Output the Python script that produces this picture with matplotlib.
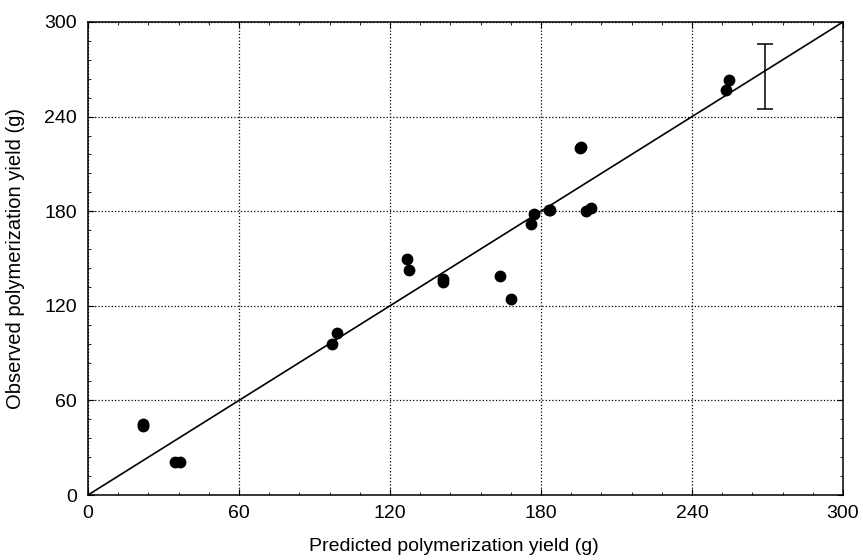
import numpy as np
import matplotlib
matplotlib.use("Agg")
import matplotlib.pyplot as plt
from matplotlib.ticker import MultipleLocator

plt.rcParams["font.family"] = ["Liberation Sans", "DejaVu Sans"]

# predicted vs observed polymerization yield (g)
predicted = [22, 22, 34.5, 36.5, 96.8, 98.8, 126.6, 127.5, 140.9, 141, 163.7, 168.1,
             175.9, 177.3, 183.3, 183.6, 195.5, 196, 197.7, 200, 253.7, 254.7]
observed = [44, 45, 21, 21, 96, 103, 150, 143, 137, 135, 139, 124,
            172, 178, 181, 181, 220, 221, 180, 182, 257, 263]

# error bar shown in the upper right corner
err_x = 269.2
err_lo, err_hi = 245, 286

ticks = [0, 60, 120, 180, 240, 300]

fig = plt.figure(figsize=(8.63, 5.60), dpi=100)
ax = fig.add_axes([88/863, 1-495/560, (843-88)/863, (495-22)/560])

ax.plot([0, 300], [0, 300], color="black", lw=1.2)
ax.plot(predicted, observed, "o", color="black", ms=7.5)
ax.errorbar([err_x], [(err_lo+err_hi)/2], yerr=[[(err_hi-err_lo)/2], [(err_hi-err_lo)/2]],
            fmt="none", ecolor="black", elinewidth=1.1, capsize=5.5, capthick=1.1)

ax.set_xlim(0, 300); ax.set_ylim(0, 300)
ax.set_xticks(ticks); ax.set_yticks(ticks)
ax.xaxis.set_minor_locator(MultipleLocator(12))
ax.yaxis.set_minor_locator(MultipleLocator(12))
ax.tick_params(which="both", direction="in", top=True, right=True, labelsize=14)
ax.tick_params(axis="x", pad=7)
ax.tick_params(axis="y", pad=8)
ax.tick_params(which="major", length=4)
ax.tick_params(which="minor", length=2)
ax.grid(True, which="major", color="black", ls=":", lw=0.9)
for s in ax.spines.values():
    s.set_linewidth(1.1)

ax.set_xlabel("Predicted polymerization yield (g)", fontsize=14)
ax.xaxis.set_label_coords(0.484, -0.091)
ax.set_ylabel("Observed polymerization yield (g)", fontsize=14.5, labelpad=14)

fig.savefig("out.png", dpi=100)
